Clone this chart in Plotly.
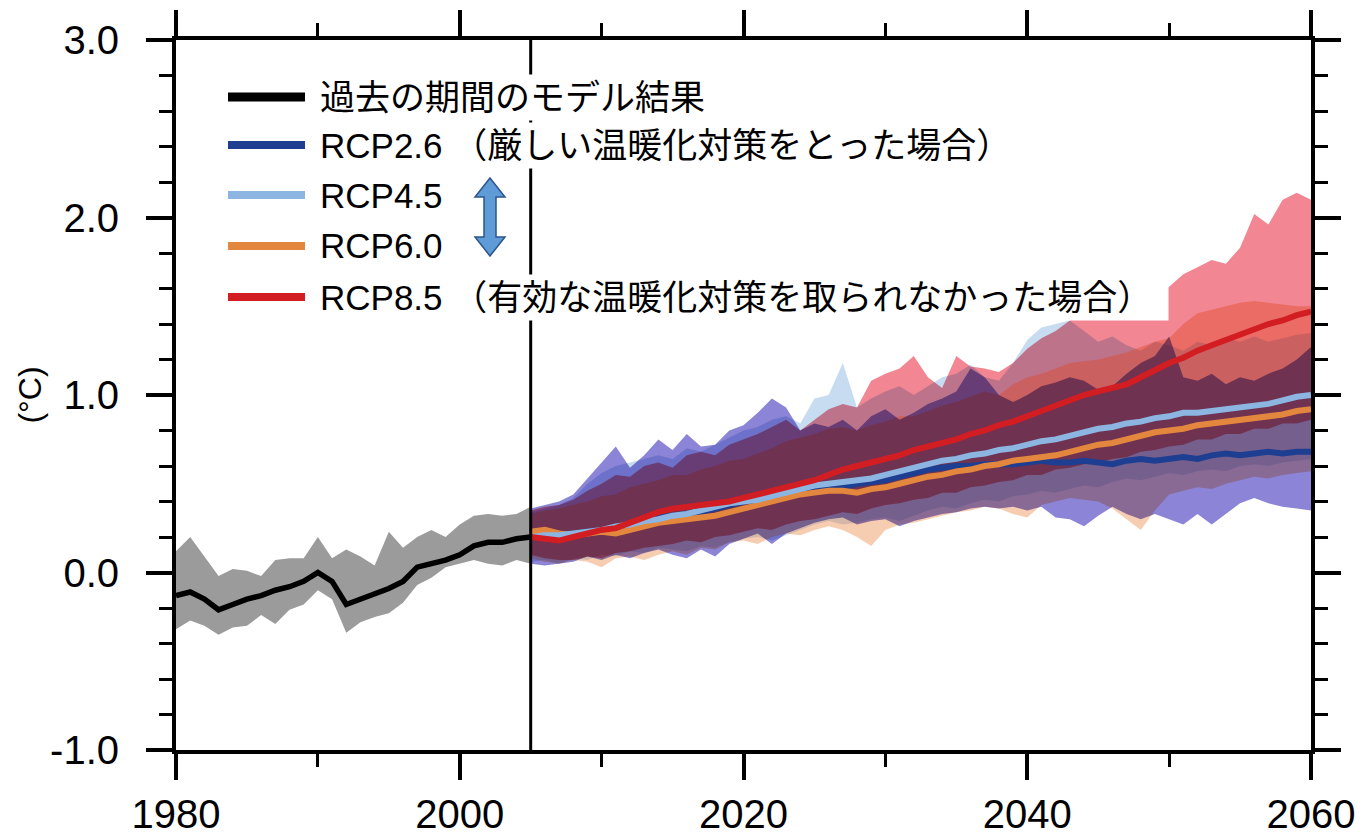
import plotly.graph_objects as go

# ---------------- data ----------------
hist_years = list(range(1980, 2006))
hist_mean = [-0.13, -0.11, -0.15, -0.21, -0.18, -0.15, -0.13, -0.10, -0.08, -0.05,
             0.00, -0.05, -0.18, -0.15, -0.12, -0.09, -0.05, 0.03, 0.05, 0.07,
             0.10, 0.15, 0.17, 0.17, 0.19, 0.20]
hist_hi = [0.12, 0.20, 0.09, -0.02, 0.02, 0.01, -0.02, 0.07, 0.08, 0.08,
           0.20, 0.08, 0.13, 0.09, 0.04, 0.23, 0.14, 0.20, 0.24, 0.20,
           0.27, 0.32, 0.33, 0.32, 0.33, 0.37]
hist_lo = [-0.32, -0.27, -0.30, -0.35, -0.31, -0.30, -0.24, -0.29, -0.21, -0.18,
           -0.10, -0.15, -0.34, -0.28, -0.25, -0.23, -0.17, -0.07, -0.03, 0.03,
           0.05, 0.07, 0.05, 0.04, 0.07, 0.05]

proj_years = list(range(2005, 2061))

rcp26_mean = [0.20, 0.20, 0.21, 0.22, 0.23, 0.24, 0.25, 0.27, 0.29, 0.31,
              0.32, 0.33, 0.34, 0.36, 0.38, 0.40, 0.41, 0.42, 0.43, 0.44,
              0.46, 0.47, 0.48, 0.50, 0.51, 0.52, 0.54, 0.56, 0.58, 0.59,
              0.60, 0.60, 0.61, 0.61, 0.61, 0.62, 0.63, 0.62, 0.62, 0.63,
              0.62, 0.61, 0.63, 0.64, 0.63, 0.64, 0.65, 0.64, 0.66, 0.67,
              0.66, 0.67, 0.68, 0.67, 0.68, 0.68]
rcp26_hi = [0.36, 0.38, 0.40, 0.44, 0.53, 0.62, 0.71, 0.59, 0.66, 0.75,
            0.69, 0.78, 0.71, 0.72, 0.80, 0.83, 0.90, 0.98, 0.93, 0.80,
            0.84, 0.82, 0.86, 0.80, 0.88, 0.92, 0.86, 0.90, 0.95, 0.98,
            1.02, 1.15, 1.10, 1.00, 0.96, 1.00, 1.05, 1.07, 1.10, 1.08,
            1.03, 1.05, 1.12, 1.18, 1.22, 1.33, 1.10, 1.08, 1.12, 1.06,
            1.10, 1.08, 1.12, 1.15, 1.20, 1.27]
rcp26_lo = [0.05, 0.04, 0.05, 0.06, 0.09, 0.07, 0.10, 0.08, 0.11, 0.13,
            0.10, 0.08, 0.13, 0.09, 0.16, 0.19, 0.22, 0.16, 0.22, 0.25,
            0.28, 0.30, 0.31, 0.27, 0.29, 0.30, 0.26, 0.29, 0.31, 0.33,
            0.34, 0.36, 0.37, 0.36, 0.37, 0.35, 0.37, 0.31, 0.30, 0.26,
            0.32, 0.37, 0.33, 0.30, 0.33, 0.30, 0.27, 0.33, 0.27, 0.33,
            0.39, 0.42, 0.39, 0.37, 0.36, 0.35]

rcp45_mean = [0.20, 0.21, 0.21, 0.22, 0.23, 0.24, 0.26, 0.27, 0.29, 0.30,
              0.32, 0.33, 0.35, 0.37, 0.39, 0.40, 0.41, 0.43, 0.45, 0.47,
              0.49, 0.50, 0.51, 0.52, 0.53, 0.55, 0.57, 0.59, 0.61, 0.63,
              0.64, 0.66, 0.67, 0.69, 0.70, 0.72, 0.74, 0.75, 0.77, 0.79,
              0.81, 0.82, 0.84, 0.85, 0.87, 0.88, 0.90, 0.90, 0.91, 0.92,
              0.93, 0.94, 0.95, 0.97, 0.99, 1.00]
rcp45_hi = [0.34, 0.36, 0.38, 0.42, 0.50, 0.56, 0.60, 0.62, 0.64, 0.66,
            0.64, 0.70, 0.68, 0.72, 0.76, 0.80, 0.82, 0.86, 0.88, 0.84,
            0.98, 1.00, 1.18, 0.93, 0.98, 1.02, 1.05, 1.00, 1.05, 1.10,
            1.12, 1.17, 1.10, 1.08, 1.18, 1.31, 1.38, 1.40, 1.42, 1.36,
            1.30, 1.33, 1.28, 1.25, 1.30, 1.28, 1.25, 1.30, 1.28, 1.32,
            1.30, 1.33, 1.30, 1.32, 1.34, 1.35]
rcp45_lo = [0.06, 0.07, 0.05, 0.08, 0.07, 0.10, 0.09, 0.12, 0.11, 0.14,
            0.13, 0.12, 0.15, 0.14, 0.17, 0.19, 0.20, 0.18, 0.21, 0.24,
            0.27, 0.29, 0.27, 0.28, 0.30, 0.31, 0.29, 0.32, 0.35, 0.37,
            0.36, 0.39, 0.41, 0.40, 0.43, 0.44, 0.46, 0.45, 0.47, 0.49,
            0.48, 0.51, 0.53, 0.52, 0.54, 0.56, 0.55, 0.57, 0.58, 0.57,
            0.60, 0.61, 0.60, 0.62, 0.63, 0.64]

rcp60_mean = [0.23, 0.24, 0.22, 0.21, 0.22, 0.23, 0.22, 0.24, 0.26, 0.28,
              0.29, 0.30, 0.31, 0.32, 0.34, 0.36, 0.38, 0.40, 0.42, 0.44,
              0.45, 0.46, 0.46, 0.45, 0.47, 0.48, 0.50, 0.52, 0.54, 0.55,
              0.57, 0.58, 0.60, 0.61, 0.63, 0.64, 0.65, 0.66, 0.68, 0.70,
              0.72, 0.73, 0.75, 0.77, 0.79, 0.80, 0.81, 0.83, 0.84, 0.85,
              0.86, 0.87, 0.88, 0.89, 0.91, 0.92]
rcp60_hi = [0.33, 0.35, 0.36, 0.38, 0.40, 0.43, 0.44, 0.48, 0.50, 0.52,
            0.55, 0.55, 0.58, 0.60, 0.63, 0.64, 0.67, 0.70, 0.74, 0.76,
            0.78, 0.81, 0.82, 0.80, 0.83, 0.85, 0.88, 0.88, 0.91, 0.94,
            0.96, 0.99, 1.02, 1.00, 1.06, 1.10, 1.12, 1.15, 1.18, 1.19,
            1.20, 1.22, 1.24, 1.27, 1.30, 1.32, 1.40, 1.46, 1.48, 1.50,
            1.52, 1.53, 1.52, 1.51, 1.50, 1.50]
rcp60_lo = [0.08, 0.06, 0.05, 0.07, 0.06, 0.03, 0.08, 0.09, 0.07, 0.10,
            0.12, 0.10, 0.14, 0.13, 0.17, 0.18, 0.16, 0.20, 0.22, 0.21,
            0.24, 0.26, 0.24, 0.20, 0.15, 0.24, 0.27, 0.28, 0.30, 0.32,
            0.34, 0.35, 0.37, 0.36, 0.33, 0.31, 0.38, 0.40, 0.42, 0.41,
            0.40, 0.36, 0.30, 0.24, 0.35, 0.44, 0.46, 0.48, 0.47, 0.50,
            0.52, 0.54, 0.53, 0.55, 0.56, 0.57]

rcp85_mean = [0.20, 0.19, 0.18, 0.20, 0.22, 0.24, 0.25, 0.28, 0.31, 0.34,
              0.36, 0.37, 0.38, 0.39, 0.40, 0.42, 0.44, 0.46, 0.48, 0.50,
              0.52, 0.55, 0.58, 0.60, 0.62, 0.64, 0.66, 0.69, 0.71, 0.73,
              0.75, 0.78, 0.80, 0.83, 0.85, 0.88, 0.91, 0.94, 0.97, 1.00,
              1.02, 1.04, 1.06, 1.10, 1.14, 1.18, 1.21, 1.25, 1.28, 1.31,
              1.34, 1.37, 1.40, 1.42, 1.45, 1.47]
rcp85_hi = [0.35, 0.37, 0.38, 0.41, 0.46, 0.50, 0.55, 0.54, 0.60, 0.62,
            0.59, 0.66, 0.68, 0.66, 0.72, 0.75, 0.78, 0.82, 0.86, 0.80,
            0.86, 0.92, 0.95, 0.93, 1.08, 1.12, 1.15, 1.22, 1.10, 1.04,
            1.22, 1.16, 1.15, 1.13, 1.18, 1.26, 1.32, 1.36, 1.42, 1.46,
            1.50, 1.48, 1.53, 1.56, 1.55, 1.61, 1.68, 1.72, 1.76, 1.74,
            1.83, 2.02, 1.96, 2.10, 2.14, 2.10]
rcp85_lo = [0.10, 0.08, 0.07, 0.07, 0.09, 0.08, 0.11, 0.12, 0.14, 0.15,
            0.16, 0.18, 0.17, 0.20, 0.21, 0.23, 0.25, 0.24, 0.27, 0.29,
            0.30, 0.32, 0.34, 0.33, 0.36, 0.38, 0.39, 0.41, 0.42, 0.45,
            0.45, 0.48, 0.49, 0.51, 0.52, 0.55, 0.55, 0.58, 0.59, 0.61,
            0.62, 0.64, 0.65, 0.68, 0.69, 0.71, 0.72, 0.75, 0.75, 0.78,
            0.78, 0.81, 0.81, 0.84, 0.84, 0.86]

x_ticks = [1980, 2000, 2020, 2040, 2060]
y_ticks = [-1.0, 0.0, 1.0, 2.0, 3.0]
y_tick_text = ["-1.0", "0.0", "1.0", "2.0", "3.0"]
split_year = 2005

legend_rows = [
    ("過去の期間のモデル結果", "black"),
    ("RCP2.6 （厳しい温暖化対策をとった場合）", "rgb(30,62,145)"),
    ("RCP4.5", "rgb(140,182,225)"),
    ("RCP6.0", "rgb(228,135,62)"),
    ("RCP8.5 （有効な温暖化対策を取られなかった場合）", "rgb(210,30,35)"),
]

# RCP4.5 / RCP6.0 spreads are translucent washes; the RCP2.6 / RCP8.5
# spreads are opaque tints that get multiplied onto whatever lies below
wash_colors = {
    "rcp45": "rgba(130,175,225,0.45)",
    "rcp60": "rgba(235,130,60,0.40)",
}
multiply_colors = {
    "rcp85": (242, 134, 146),
    "rcp26": (140, 132, 214),
}


def rgb(c):
    return "rgb({},{},{})".format(*c)


# ---------------- layout constants ----------------
W, H = 1360, 838
ML, MR, MT, MB = 176, 49, 40, 88
PW, PH = W - ML - MR, H - MT - MB


def px(x):
    return (x - ML) / PW


def py(y):
    return (H - MB - y) / PH


TXT_FONT = "Liberation Sans, Arial, Noto Sans CJK JP, sans-serif"

fig = go.Figure()


def add_band(x, lo, hi, color):
    fig.add_trace(go.Scatter(
        x=list(x) + list(x)[::-1], y=list(hi) + list(lo)[::-1],
        fill="toself", fillcolor=color, mode="lines", line=dict(width=0),
        hoverinfo="skip", showlegend=False))


def add_line(x, y, color, width):
    fig.add_trace(go.Scatter(
        x=x, y=y, mode="lines", line=dict(color=color, width=width),
        hoverinfo="skip", showlegend=False))


# historical period
add_band(hist_years, hist_lo, hist_hi, "rgb(155,155,155)")
add_line(hist_years, hist_mean, "black", 5.5)

# scenario spreads
add_band(proj_years, rcp45_lo, rcp45_hi, wash_colors["rcp45"])
add_band(proj_years, rcp60_lo, rcp60_hi, wash_colors["rcp60"])
add_band(proj_years, rcp85_lo, rcp85_hi, rgb(multiply_colors["rcp85"]))
add_band(proj_years, rcp26_lo, rcp26_hi, rgb(multiply_colors["rcp26"]))

# scenario means
add_line(proj_years, rcp26_mean, legend_rows[1][1], 6)
add_line(proj_years, rcp60_mean, legend_rows[3][1], 6)
add_line(proj_years, rcp45_mean, legend_rows[2][1], 6)
add_line(proj_years, rcp85_mean, legend_rows[4][1], 6)

shapes = [
    dict(type="line", xref="x", yref="paper", x0=split_year, x1=split_year,
         y0=0, y1=1, line=dict(color="black", width=3), layer="above"),
]

# legend swatches and labels
row_y = [97, 145, 195, 246, 297]
annotations = []
for (label, color), ry in zip(legend_rows, row_y):
    shapes.append(dict(type="line", xref="paper", yref="paper",
                       x0=px(228), x1=px(305), y0=py(ry), y1=py(ry),
                       line=dict(color=color, width=9 if color == "black" else 8),
                       layer="above"))
    ann = dict(xref="paper", yref="paper", x=px(316), y=py(ry),
               xanchor="left", yanchor="middle", text=label, showarrow=False,
               font=dict(family=TXT_FONT, size=35, color="black"),
               bgcolor="white", borderpad=3, align="left")
    if label.startswith("RCP8.5"):
        ann["width"] = 845
    annotations.append(ann)

# double-headed arrow between RCP4.5 and RCP6.0
ax, top, bot = 490, 178, 256
pts = [(ax, top), (ax + 15, top + 19), (ax + 6, top + 19), (ax + 6, bot - 19),
       (ax + 15, bot - 19), (ax, bot), (ax - 15, bot - 19), (ax - 6, bot - 19),
       (ax - 6, top + 19), (ax - 15, top + 19)]
path = "M " + " L ".join(f"{px(a):.5f},{py(b):.5f}" for a, b in pts) + " Z"
shapes.append(dict(type="path", xref="paper", yref="paper", path=path,
                   fillcolor="rgb(95,155,215)",
                   line=dict(color="rgb(45,85,140)", width=1.5), layer="above"))

axis_common = dict(
    showline=True, linewidth=4, linecolor="black", mirror="allticks",
    ticks="outside", ticklen=26, tickwidth=4, tickcolor="black",
    showgrid=False, zeroline=False, automargin=False,
)

fig.update_layout(
    template="none",
    width=W, height=H,
    margin=dict(l=ML, r=MR, t=MT, b=MB, pad=0),
    paper_bgcolor="white", plot_bgcolor="white",
    xaxis=dict(range=[1980, 2060], tickvals=x_ticks,
               minor=dict(dtick=10, tick0=1980, ticks="outside", ticklen=13,
                          tickwidth=3, tickcolor="black"),
               ticklabelstandoff=0,
               tickfont=dict(family="Liberation Sans, Arial, sans-serif",
                             size=40, color="black"),
               **axis_common),
    yaxis=dict(range=[-1, 3], tickvals=y_ticks, ticktext=y_tick_text,
               minor=dict(dtick=0.2, tick0=0, ticks="outside", ticklen=13,
                          tickwidth=3, tickcolor="black"),
               ticklabelstandoff=19,
               tickfont=dict(family="Liberation Sans, Arial, sans-serif",
                             size=40, color="black"),
               title=dict(text="(°C)", standoff=0,
                          font=dict(family="Liberation Sans, Arial, sans-serif",
                                    size=32, color="black")),
               **axis_common),
    shapes=shapes,
    annotations=annotations,
    showlegend=False,
)

# the RCP2.6 and RCP8.5 spreads darken what they overlap (multiply blend)
multiply_js = """
var gd = document.getElementById('{plot_id}');
var tints = %s;
function blendFills() {
  gd.querySelectorAll('.scatterlayer .trace path.js-fill').forEach(function (p) {
    var f = (p.style.fill || '').replace(/\\s/g, '');
    if (tints.indexOf(f) >= 0) { p.style.mixBlendMode = 'multiply'; }
  });
}
blendFills();
gd.on('plotly_afterplot', blendFills);
""" % str([rgb(c) for c in multiply_colors.values()])

fig.write_html("out.html", post_script=multiply_js)
